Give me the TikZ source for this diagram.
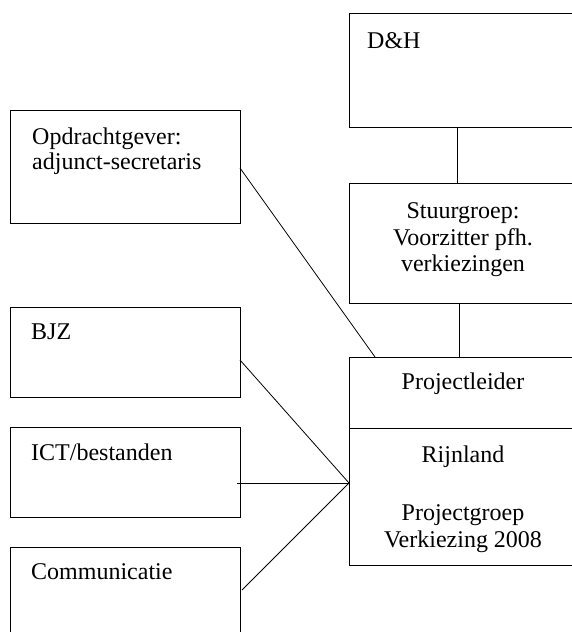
\documentclass[tikz,border=0pt]{standalone}
\usepackage{fontspec}
\setmainfont{Liberation Serif}
\begin{document}
\begin{tikzpicture}[x=1pt,y=-1pt,
  box/.style={draw, line width=0.8pt, rectangle, inner sep=0pt, anchor=north west},
  lbl/.style={inner sep=0pt, font=\fontsize{24}{26}\selectfont},
  conn/.style={line width=0.8pt}]
\useasboundingbox (0,0) rectangle (572,632);
\clip (0,0) rectangle (572,632);
% right column
\node[box, minimum width=251pt, minimum height=114pt] (dh) at (349,13) {};
\node[box, minimum width=251pt, minimum height=120pt] (stuur) at (349,183) {};
\node[box, minimum width=251pt, minimum height=71pt] (pl) at (349,357) {};
\node[box, minimum width=251pt, minimum height=137pt] (rijn) at (349,428) {};
% left column
\node[box, minimum width=230pt, minimum height=113pt] (opd) at (10,110) {};
\node[box, minimum width=230pt, minimum height=90pt] (bjz) at (10,307) {};
\node[box, minimum width=230pt, minimum height=90pt] (ict) at (10,427) {};
\node[box, minimum width=230pt, minimum height=100pt] (comm) at (10,547) {};
% texts
\node[lbl, anchor=base west] (tdh) at (367,48) {D\&H};
\node[lbl, anchor=base] (ts1) at (463,218) {Stuurgroep:};
\node[lbl, anchor=base] (ts2) at (463,245) {Voorzitter pfh.};
\node[lbl, anchor=base] (ts3) at (463,271) {verkiezingen};
\node[lbl, anchor=base] (tpl) at (463,389) {Projectleider};
\node[lbl, anchor=base] (tr1) at (463,462) {Rijnland};
\node[lbl, anchor=base] (tr2) at (463,520) {Projectgroep};
\node[lbl, anchor=base] (tr3) at (463,547) {Verkiezing 2008};
\node[lbl, anchor=base west] (to1) at (32,144) {Opdrachtgever:};
\node[lbl, anchor=base west] (to2) at (32,169) {adjunct-secretaris};
\node[lbl, anchor=base west] (tb) at (31,339) {BJZ};
\node[lbl, anchor=base west] (ti) at (31,460) {ICT/bestanden};
\node[lbl, anchor=base west] (tc) at (31,579) {Communicatie};
% connector points
\coordinate (dhb) at (457,127);
\coordinate (stt) at (457,183);
\coordinate (stb) at (459,303);
\coordinate (plt) at (459,357);
\coordinate (plopd) at (375,357);
\coordinate (opdr) at (240,168);
\coordinate (bjzr) at (240,360);
\coordinate (ictr) at (237,483);
\coordinate (commr) at (242,590);
\coordinate (hub) at (349,483);
% connectors
\draw[conn] (dhb) -- (stt);
\draw[conn] (stb) -- (plt);
\draw[conn] (opdr) -- (plopd);
\draw[conn] (bjzr) -- (hub);
\draw[conn] (ictr) -- (hub);
\draw[conn] (commr) -- (hub);
\end{tikzpicture}
\end{document}
